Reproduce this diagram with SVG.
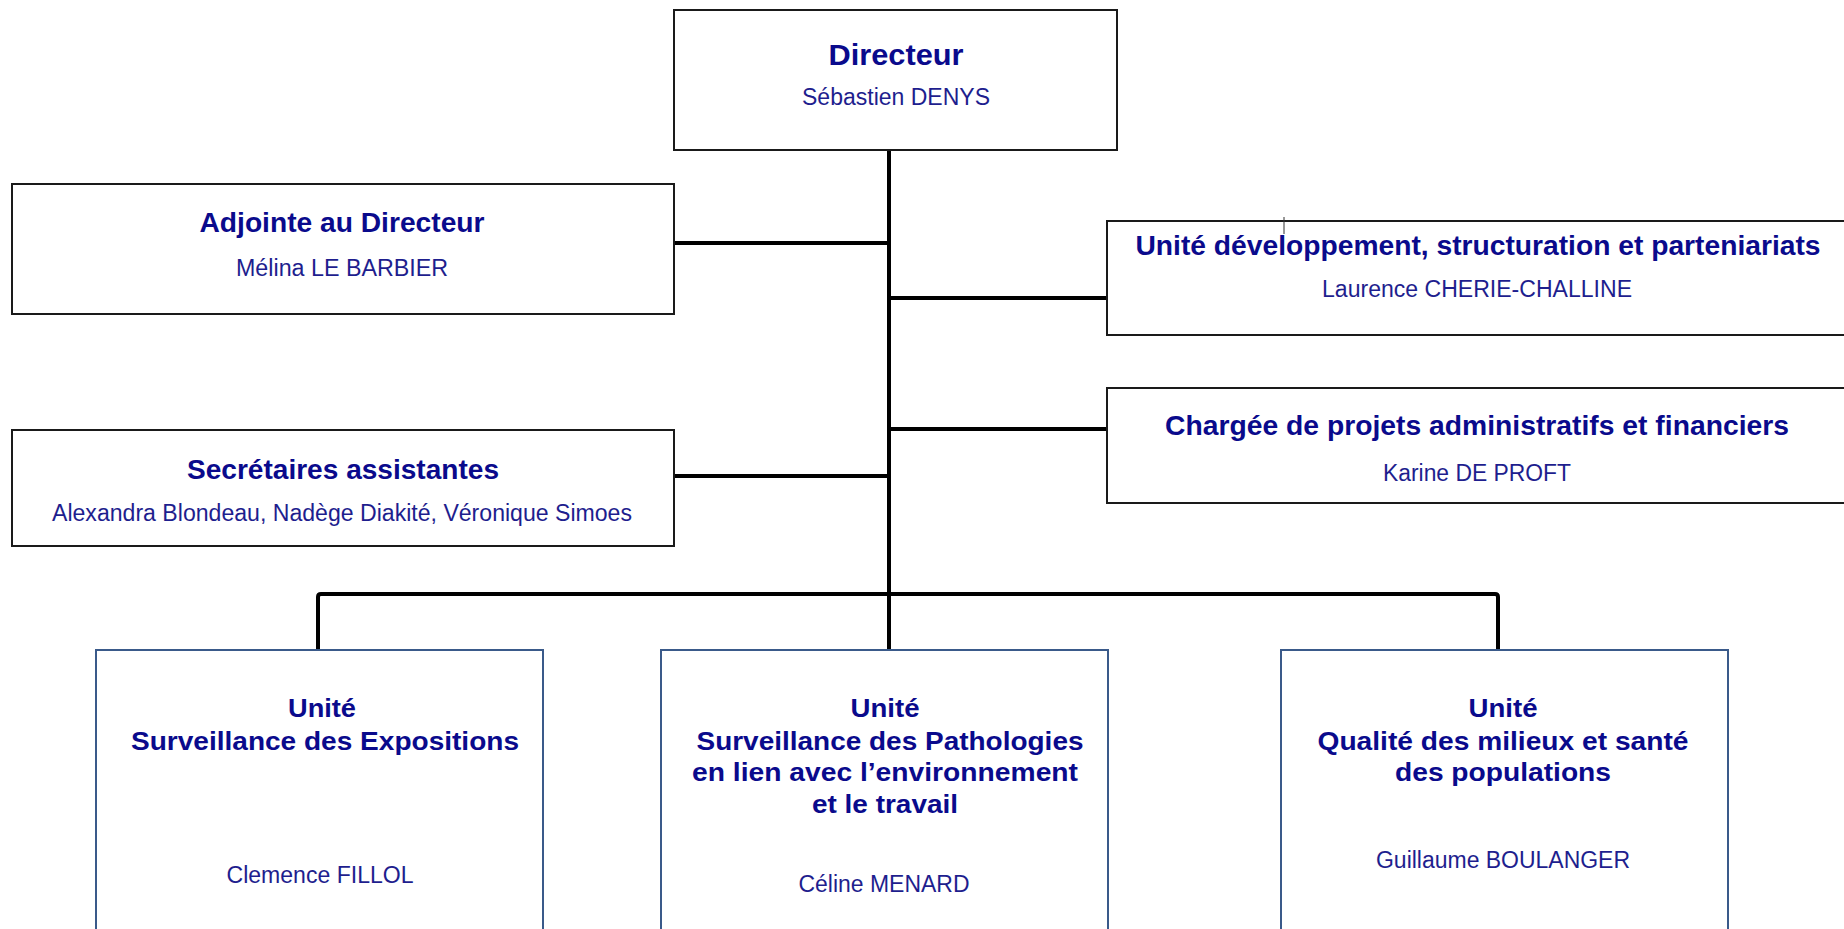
<svg xmlns="http://www.w3.org/2000/svg" width="1844" height="929" viewBox="0 0 1844 929">
<style>
.box{fill:#ffffff;stroke:#1a1a1a;stroke-width:2}
.ubox{fill:#ffffff;stroke:#3a5a8a;stroke-width:2}
.t{font-family:"Liberation Sans",Arial,sans-serif;font-weight:bold;fill:#0a0a8c;text-anchor:middle}
.n{font-family:"Liberation Sans",Arial,sans-serif;fill:#1e1e8e;text-anchor:middle}
.c{fill:none;stroke:#000000;stroke-width:4;stroke-linejoin:round}
</style>
<rect width="1844" height="929" fill="#ffffff"/>
<g id="connectors">
<path class="c" d="M889,150 V650"/>
<path class="c" d="M674,243 H889"/>
<path class="c" d="M889,298 H1107"/>
<path class="c" d="M889,429 H1107"/>
<path class="c" d="M674,476 H889"/>
<path class="c" d="M318,650 V597 Q318,594 321,594 H1495 Q1498,594 1498,597 V650"/>
</g>
<g id="directeur">
<rect class="box" x="674" y="10" width="443" height="140"/>
<text class="t" x="896" y="65" font-size="30" textLength="135" lengthAdjust="spacingAndGlyphs">Directeur</text>
<text class="n" x="896" y="105" font-size="23" textLength="188" lengthAdjust="spacingAndGlyphs">Sébastien DENYS</text>
</g>
<g id="adjointe">
<rect class="box" x="12" y="184" width="662" height="130"/>
<text class="t" x="342" y="232" font-size="28" textLength="285" lengthAdjust="spacingAndGlyphs">Adjointe au Directeur</text>
<text class="n" x="342" y="276" font-size="23" textLength="212" lengthAdjust="spacingAndGlyphs">Mélina LE BARBIER</text>
</g>
<g id="secretaires">
<rect class="box" x="12" y="430" width="662" height="116"/>
<text class="t" x="343" y="479" font-size="28" textLength="312" lengthAdjust="spacingAndGlyphs">Secrétaires assistantes</text>
<text class="n" x="342" y="521" font-size="23" textLength="580" lengthAdjust="spacingAndGlyphs">Alexandra Blondeau, Nadège Diakité, Véronique Simoes</text>
</g>
<g id="unite-developpement">
<rect class="box" x="1107" y="221" width="740" height="114"/>
<text class="t" x="1478" y="255" font-size="28" textLength="685" lengthAdjust="spacingAndGlyphs">Unité développement, structuration et parteniariats</text>
<text class="n" x="1477" y="297" font-size="23" textLength="310" lengthAdjust="spacingAndGlyphs">Laurence CHERIE-CHALLINE</text>
<path d="M1284,217 V234" stroke="#333333" stroke-width="1"/>
</g>
<g id="chargee">
<rect class="box" x="1107" y="388" width="740" height="115"/>
<text class="t" x="1477" y="435" font-size="28" textLength="624" lengthAdjust="spacingAndGlyphs">Chargée de projets administratifs et financiers</text>
<text class="n" x="1477" y="481" font-size="23" textLength="188" lengthAdjust="spacingAndGlyphs">Karine DE PROFT</text>
</g>
<g id="unite-expositions">
<rect class="ubox" x="96" y="650" width="447" height="290"/>
<text class="t" x="322" y="717" font-size="26" textLength="68" lengthAdjust="spacingAndGlyphs">Unité</text>
<text class="t" x="325" y="750" font-size="26" textLength="388" lengthAdjust="spacingAndGlyphs">Surveillance des Expositions</text>
<text class="n" x="320" y="883" font-size="23" textLength="187" lengthAdjust="spacingAndGlyphs">Clemence FILLOL</text>
</g>
<g id="unite-pathologies">
<rect class="ubox" x="661" y="650" width="447" height="290"/>
<text class="t" x="885" y="717" font-size="26" textLength="69" lengthAdjust="spacingAndGlyphs">Unité</text>
<text class="t" x="890" y="750" font-size="26" textLength="387" lengthAdjust="spacingAndGlyphs">Surveillance des Pathologies</text>
<text class="t" x="885" y="781" font-size="26" textLength="386" lengthAdjust="spacingAndGlyphs">en lien avec l’environnement</text>
<text class="t" x="885" y="813" font-size="26" textLength="146" lengthAdjust="spacingAndGlyphs">et le travail</text>
<text class="n" x="884" y="892" font-size="23" textLength="171" lengthAdjust="spacingAndGlyphs">Céline MENARD</text>
</g>
<g id="unite-qualite">
<rect class="ubox" x="1281" y="650" width="447" height="290"/>
<text class="t" x="1503" y="717" font-size="26" textLength="69" lengthAdjust="spacingAndGlyphs">Unité</text>
<text class="t" x="1503" y="750" font-size="26" textLength="371" lengthAdjust="spacingAndGlyphs">Qualité des milieux et santé</text>
<text class="t" x="1503" y="781" font-size="26" textLength="216" lengthAdjust="spacingAndGlyphs">des populations</text>
<text class="n" x="1503" y="868" font-size="23" textLength="254" lengthAdjust="spacingAndGlyphs">Guillaume BOULANGER</text>
</g>
</svg>
